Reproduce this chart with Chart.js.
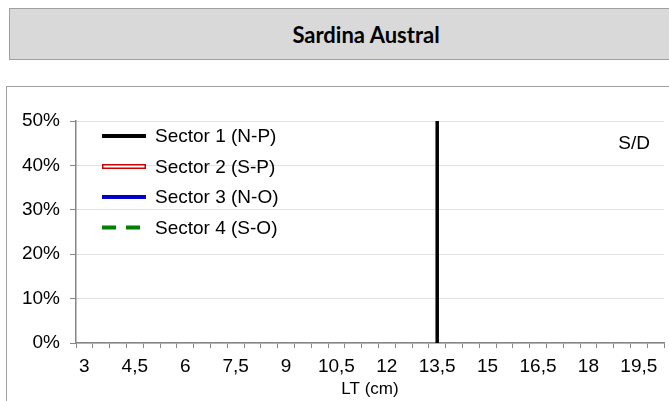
<!DOCTYPE html>
<html>
<head>
<meta charset="utf-8">
<script src="https://cdn.jsdelivr.net/npm/chart.js@4.4.1/dist/chart.umd.min.js"></script>
<style>
  html, body { margin: 0; padding: 0; background: #fff; }
  body { width: 669px; height: 401px; position: relative; overflow: hidden; }
  #title-box {
    position: absolute; left: 9px; top: 8px; width: 720px; height: 52px;
    background: #d9d9d9; border: 1.5px solid #a0a0a0; box-sizing: border-box;
    display: flex; align-items: center;
  }
  #title-box span {
    display: block; width: 712px; text-align: center; margin-top: 1px;
    font: bold 22px Lato, "Open Sans", sans-serif; color: #000;
  }
  #chart-box {
    position: absolute; left: 6px; top: 86px; width: 700px; height: 360px;
    border: 1.5px solid #a0a0a0; box-sizing: border-box;
  }
  #chart-wrap { position: absolute; left: 0; top: 0; width: 669px; height: 401px; }
</style>
</head>
<body>
<div id="title-box"><span>Sardina Austral</span></div>
<div id="chart-box"></div>
<div id="chart-wrap"><canvas id="lt-chart" width="669" height="401"></canvas></div>
<script>
// talla (LT, cm) - clases de 0,5 cm
const categories = ['3', '3,5', '4', '4,5', '5', '5,5', '6', '6,5', '7', '7,5', '8', '8,5',
    '9', '9,5', '10', '10,5', '11', '11,5', '12', '12,5', '13', '13,5', '14', '14,5',
    '15', '15,5', '16', '16,5', '17', '17,5', '18', '18,5', '19', '19,5', '20'];

// sin datos (S/D) para los cuatro sectores
const sector1 = [];
const sector2 = [];
const sector3 = [];
const sector4 = [];

// linea de referencia vertical en 13,5 cm
const refLineX = ['13,5', '13,5'];
const refLineY = [0, 0.5];

const yTicks = [0, 0.1, 0.2, 0.3, 0.4, 0.5];
const noDataText = 'S/D';

const FONT = 'Arial, "Liberation Sans", sans-serif';

const legendPlugin = {
    id: 'insideLegend',
    afterDraw(chart) {
        const ctx = chart.ctx;
        const x0 = 102, x1 = 146, tx = 155;
        let y = 136;
        ctx.save();
        chart.data.datasets.forEach(ds => {
            if (!ds.legend) return;
            ctx.lineCap = 'butt';
            if (ds.legend === 'double') {
                ctx.strokeStyle = ds.borderColor;
                ctx.lineWidth = 5;
                ctx.beginPath(); ctx.moveTo(x0, y); ctx.lineTo(x1, y); ctx.stroke();
                ctx.strokeStyle = '#fff';
                ctx.lineWidth = 2;
                ctx.beginPath(); ctx.moveTo(x0 + 1.5, y); ctx.lineTo(x1 - 1.5, y); ctx.stroke();
            } else {
                ctx.strokeStyle = ds.borderColor;
                ctx.lineWidth = 4;
                ctx.setLineDash(ds.borderDash || []);
                ctx.beginPath(); ctx.moveTo(x0, y); ctx.lineTo(x1, y); ctx.stroke();
                ctx.setLineDash([]);
            }
            ctx.fillStyle = '#000';
            ctx.font = '19px ' + FONT;
            ctx.textBaseline = 'middle';
            ctx.textAlign = 'left';
            ctx.fillText(ds.label, tx, y + 1);
            y += 30.5;
        });
        ctx.font = '19px ' + FONT;
        ctx.textAlign = 'right';
        ctx.textBaseline = 'middle';
        ctx.fillText(noDataText, chart.chartArea.right - 14, 144);
        ctx.restore();
    }
};

new Chart(document.getElementById('lt-chart').getContext('2d'), {
    type: 'line',
    data: {
        labels: categories,
        datasets: [
            { label: 'Sector 1 (N-P)', data: sector1, borderColor: '#000000', borderWidth: 3, legend: 'solid' },
            { label: 'Sector 2 (S-P)', data: sector2, borderColor: '#cc0000', borderWidth: 3, legend: 'double' },
            { label: 'Sector 3 (N-O)', data: sector3, borderColor: '#0000cc', borderWidth: 3, legend: 'solid' },
            { label: 'Sector 4 (S-O)', data: sector4, borderColor: '#008000', borderWidth: 3, borderDash: [14, 10], legend: 'dashed' },
            {
                label: 'ref',
                data: refLineX.map((x, i) => ({ x: x, y: refLineY[i] })),
                borderColor: '#000000', borderWidth: 3.5
            }
        ]
    },
    options: {
        responsive: false,
        animation: false,
        events: [],
        layout: { padding: { left: 0, right: 5, top: 121, bottom: 0 } },
        elements: { point: { radius: 0 }, line: { tension: 0 } },
        plugins: {
            legend: { display: false },
            tooltip: { enabled: false },
            title: { display: false }
        },
        scales: {
            x: {
                type: 'category',
                offset: true,
                afterFit(scale) { scale.height = 58; },
                border: { color: '#868686', width: 1.5 },
                grid: {
                    offset: true,
                    drawOnChartArea: false,
                    drawTicks: true,
                    tickLength: 5,
                    color: '#868686',
                    lineWidth: 1
                },
                ticks: {
                    autoSkip: false,
                    maxRotation: 0,
                    padding: 7,
                    color: '#000',
                    font: { family: FONT, size: 19 },
                    callback(value, index) {
                        return index % 3 === 0 ? this.getLabelForValue(value) : '';
                    }
                },
                title: {
                    display: true,
                    text: 'LT (cm)',
                    color: '#000',
                    font: { family: FONT, size: 17 },
                    padding: { top: 0, bottom: 1 }
                }
            },
            y: {
                min: 0,
                max: 0.5,
                afterFit(scale) { scale.width = 76; },
                afterBuildTicks(scale) { scale.ticks = yTicks.map(v => ({ value: v })); },
                border: { color: '#868686', width: 1.5, dash: [1, 1] },
                grid: {
                    color: '#c0c0c0',
                    lineWidth: 1,
                    tickLength: 6,
                    tickColor: '#868686',
                    tickBorderDash: []
                },
                ticks: {
                    padding: 10,
                    color: '#000',
                    font: { family: FONT, size: 19 },
                    callback(value) { return Math.round(value * 100) + '%'; }
                }
            }
        }
    },
    plugins: [legendPlugin]
});
</script>
</body>
</html>
